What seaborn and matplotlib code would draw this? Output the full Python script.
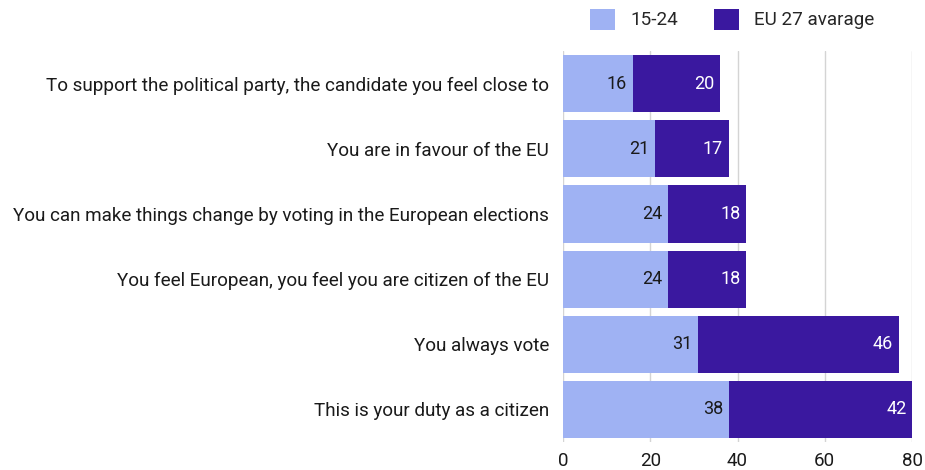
import matplotlib
matplotlib.use("Agg")
import matplotlib.pyplot as plt
import seaborn as sns
import pandas as pd
from matplotlib.patches import Patch

categories = [
    "To support the political party, the candidate you feel close to",
    "You are in favour of the EU",
    "You can make things change by voting in the European elections",
    "You feel European, you feel you are citizen of the EU",
    "You always vote",
    "This is your duty as a citizen",
]
youth = [16, 21, 24, 24, 31, 38]
eu27 = [20, 17, 18, 18, 46, 42]
x_ticks = [0, 20, 40, 60, 80]

LIGHT = "#9fb2f3"
DARK = "#3a189f"

sns.set_theme(style="white")
plt.rcParams["font.family"] = ["Roboto", "DejaVu Sans"]

df = pd.DataFrame({"category": categories, "youth": youth, "eu27": eu27})
df["total"] = df["youth"] + df["eu27"]

fig = plt.figure(figsize=(9.25, 4.7), dpi=100)
ax = fig.add_axes([0.6086, 0.0596, 0.986 - 0.6086, 0.891 - 0.0596])

# Stacked bars: full total in dark, the 15-24 share drawn over it in light
sns.barplot(data=df, y="category", x="total", color=DARK, orient="h",
            width=0.877, saturation=1, linewidth=0, ax=ax, zorder=3)
sns.barplot(data=df, y="category", x="youth", color=LIGHT, orient="h",
            width=0.877, saturation=1, linewidth=0, ax=ax, zorder=4)

for i, (a, b) in enumerate(zip(youth, eu27)):
    ax.text(a - 1.3, i, f"{a}", ha="right", va="center", color="#1a1a1a",
            fontsize=13, zorder=5)
    ax.text(a + b - 1.3, i, f"{b}", ha="right", va="center", color="white",
            fontsize=13, zorder=5)

ax.set_xlim(0, 80)
ax.set_xticks(x_ticks)
ax.set_xticklabels([str(t) for t in x_ticks], fontsize=13.5, color="#1a1a1a")
ax.tick_params(axis="y", labelsize=13.6, labelcolor="#1a1a1a", length=0, pad=10)
ax.tick_params(axis="x", length=0, pad=7)
ax.set_xlabel("")
ax.set_ylabel("")
ax.grid(axis="x", color="#d4d4d4", linewidth=1, zorder=0)
for s in ax.spines.values():
    s.set_visible(False)

handles = [Patch(facecolor=LIGHT, edgecolor="none", label="15-24"),
           Patch(facecolor=DARK, edgecolor="none", label="EU 27 avarage")]
fig.legend(handles=handles, loc="upper left", bbox_to_anchor=(0.619, 1.018),
           ncol=2, frameon=False, fontsize=13.6, handlelength=1.35,
           handleheight=1.35, handletextpad=0.8, columnspacing=1.9)

fig.savefig("out.png", dpi=100)
